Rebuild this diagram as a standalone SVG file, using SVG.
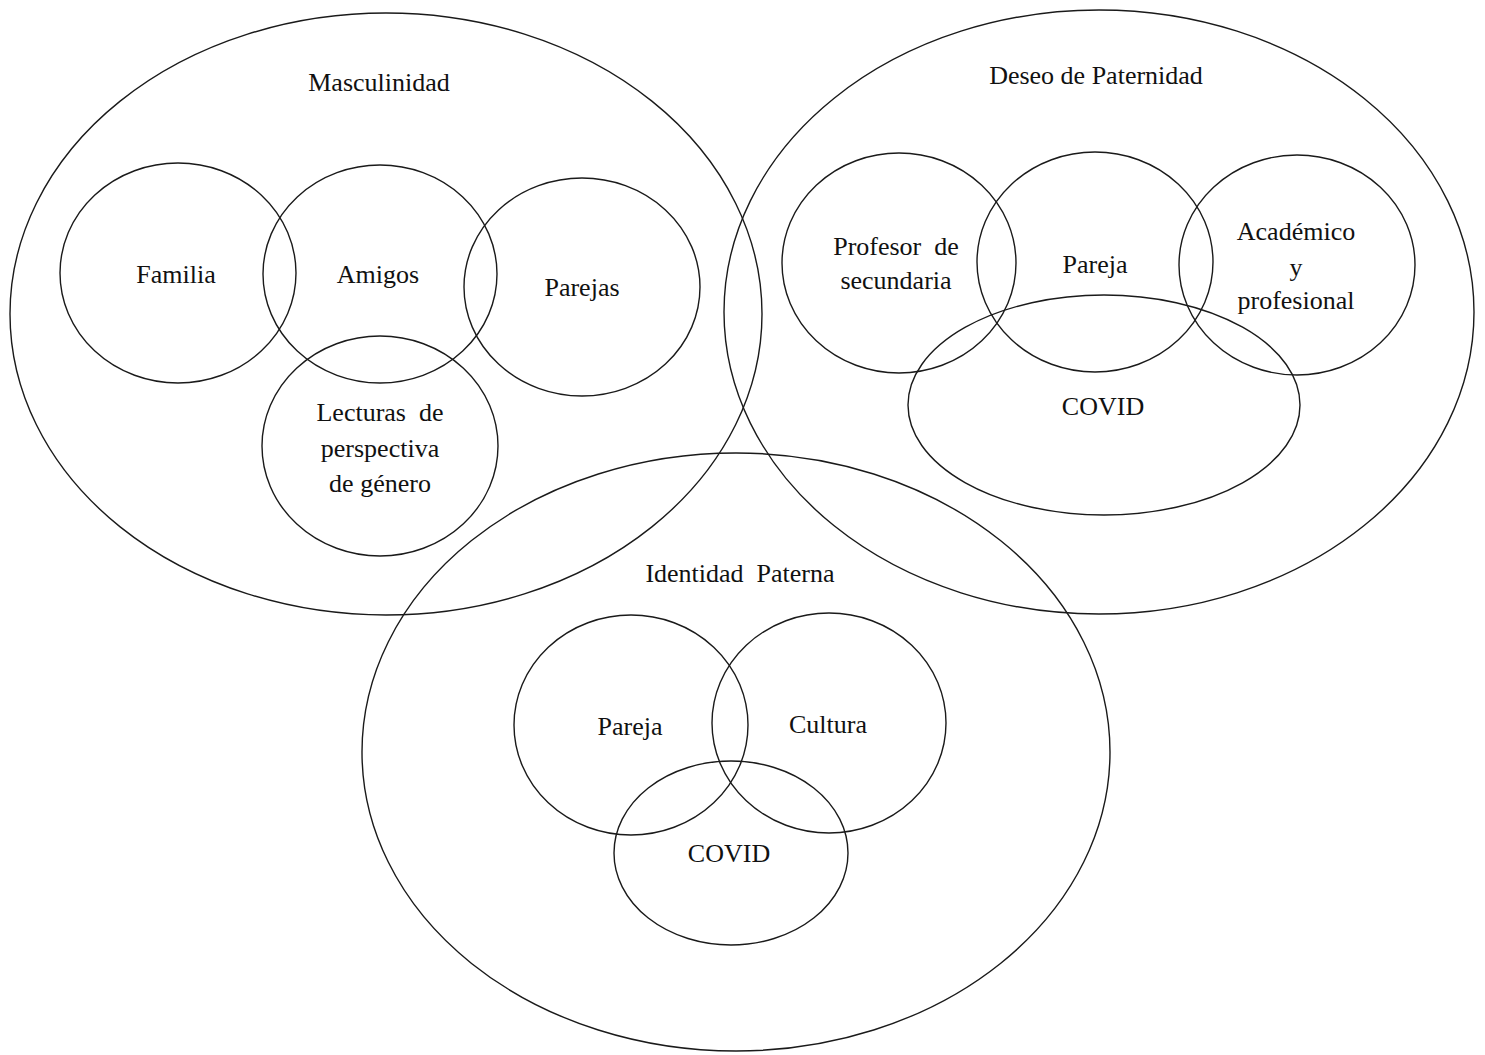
<svg xmlns="http://www.w3.org/2000/svg" width="1485" height="1055" viewBox="0 0 1485 1055">
<style>
.s{fill:none;stroke:#1a1a1a;stroke-width:1.4}
.t{font-family:"Liberation Serif","Times New Roman",serif;font-size:26px;fill:#111;text-anchor:middle;white-space:pre}
</style>
<rect width="1485" height="1055" fill="#fff"/>
<g id="masculinidad">
<ellipse class="s" cx="386" cy="314" rx="376" ry="301"/>
<text class="t" x="379" y="91">Masculinidad</text>
</g>
<g id="deseo">
<ellipse class="s" cx="1099" cy="312" rx="375" ry="302"/>
<text class="t" x="1096" y="84">Deseo de Paternidad</text>
</g>
<g id="identidad">
<ellipse class="s" cx="736" cy="752" rx="374" ry="299"/>
<text class="t" x="740" y="582">Identidad  Paterna</text>
</g>
<g id="familia">
<ellipse class="s" cx="178" cy="273" rx="118" ry="110"/>
<text class="t" x="176" y="283">Familia</text>
</g>
<g id="amigos">
<ellipse class="s" cx="380" cy="274" rx="117" ry="109"/>
<text class="t" x="378" y="283">Amigos</text>
</g>
<g id="parejas">
<ellipse class="s" cx="582" cy="287" rx="118" ry="109"/>
<text class="t" x="582" y="296">Parejas</text>
</g>
<g id="lecturas">
<ellipse class="s" cx="380" cy="446" rx="118" ry="110"/>
<text class="t" x="380" y="421">Lecturas  de</text>
<text class="t" x="380" y="457">perspectiva</text>
<text class="t" x="380" y="492">de género</text>
</g>
<g id="profesor">
<ellipse class="s" cx="899" cy="263" rx="117" ry="110"/>
<text class="t" x="896" y="255">Profesor  de</text>
<text class="t" x="896" y="289">secundaria</text>
</g>
<g id="pareja-deseo">
<ellipse class="s" cx="1095" cy="262" rx="118" ry="110"/>
<text class="t" x="1095" y="273">Pareja</text>
</g>
<g id="academico">
<ellipse class="s" cx="1297" cy="265" rx="118" ry="110"/>
<text class="t" x="1296" y="240">Académico</text>
<text class="t" x="1296" y="276">y</text>
<text class="t" x="1296" y="309">profesional</text>
</g>
<g id="covid-deseo">
<ellipse class="s" cx="1104" cy="405" rx="196" ry="110"/>
<text class="t" x="1103" y="415">COVID</text>
</g>
<g id="pareja-identidad">
<ellipse class="s" cx="631" cy="725" rx="117" ry="110"/>
<text class="t" x="630" y="735">Pareja</text>
</g>
<g id="cultura">
<ellipse class="s" cx="829" cy="723" rx="117" ry="110"/>
<text class="t" x="828" y="733">Cultura</text>
</g>
<g id="covid-identidad">
<ellipse class="s" cx="731" cy="853" rx="117" ry="92"/>
<text class="t" x="729" y="862">COVID</text>
</g>
<g id="connectors"></g>
</svg>
